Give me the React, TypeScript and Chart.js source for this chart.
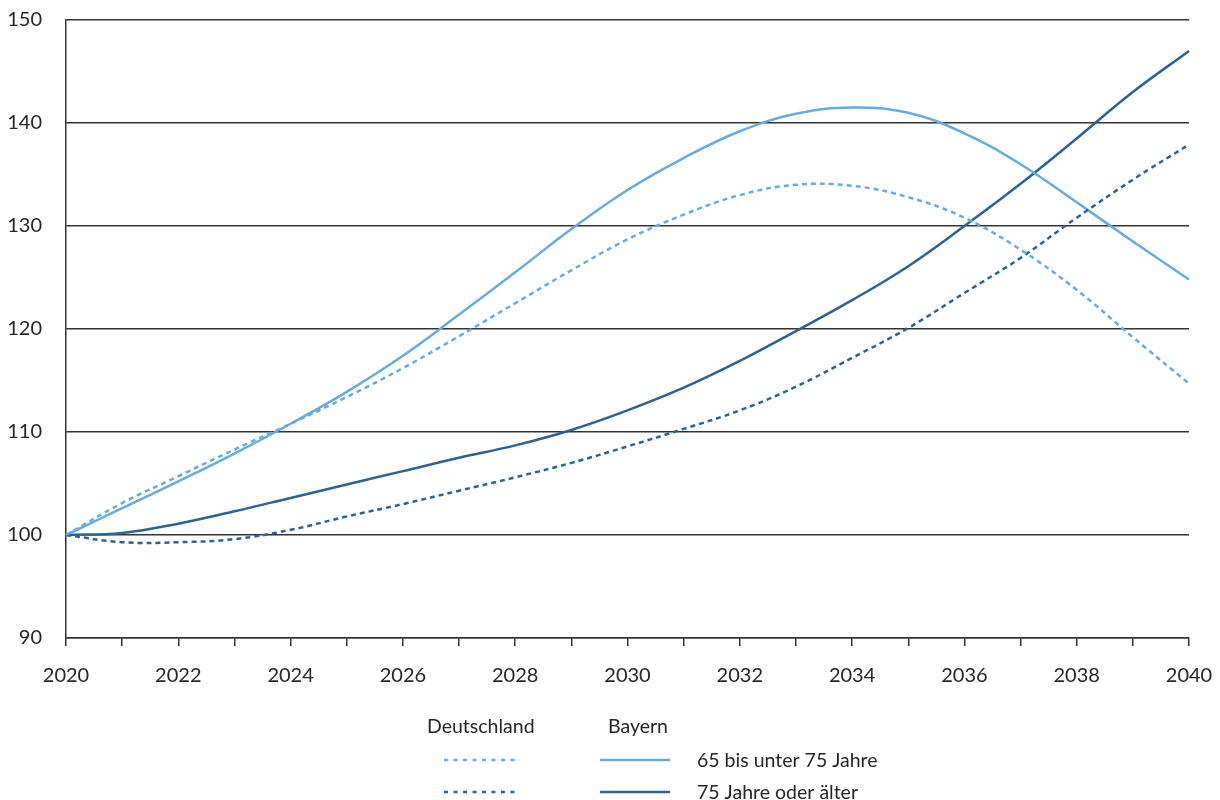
import React, { useEffect, useRef } from "react";
import { Chart, registerables } from "chart.js";

Chart.register(...registerables);

const years = ["2020","2021","2022","2023","2024","2025","2026","2027","2028","2029","2030","2031","2032","2033","2034","2035","2036","2037","2038","2039","2040"];

const bayern65 = [100, 102.6, 105.2, 107.9, 110.8, 113.9, 117.4, 121.4, 125.5, 129.7, 133.5, 136.6, 139.2, 140.9, 141.5, 141.0, 139.0, 136.0, 132.3, 128.5, 124.8];
const deutschland65 = [100, 103.1, 105.7, 108.3, 110.8, 113.4, 116.2, 119.3, 122.5, 125.7, 128.7, 131.1, 133.0, 134.0, 133.9, 132.8, 130.8, 127.7, 123.8, 119.2, 114.7];
const bayern75 = [100, 100.2, 101.1, 102.3, 103.6, 104.9, 106.2, 107.5, 108.7, 110.2, 112.1, 114.3, 116.9, 119.8, 122.8, 126.1, 130.0, 134.1, 138.5, 143.0, 147.0];
const deutschland75 = [100, 99.3, 99.3, 99.6, 100.5, 101.8, 103.0, 104.3, 105.6, 107.0, 108.6, 110.3, 112.1, 114.4, 117.2, 120.1, 123.5, 126.9, 130.8, 134.5, 137.9];

const legendHeaders = ["Deutschland", "Bayern"];
const legendLabels = ["65 bis unter 75 Jahre", "75 Jahre oder älter"];

const LIGHT = "#66acdf";
const DARK = "#2b6391";
const TEXT = "#262626";
const FONT = "Lato";

const legendPlugin = {
  id: "customLegend",
  afterDraw(chart: any) {
    const ctx = chart.ctx;
    ctx.save();
    ctx.font = `19.5px ${FONT}`;
    ctx.fillStyle = TEXT;
    ctx.textBaseline = "middle";
    ctx.textAlign = "left";
    ctx.fillText(legendHeaders[0], 427, 727);
    ctx.fillText(legendHeaders[1], 608, 727);
    const rows = [
      { y: 760, color: LIGHT, label: legendLabels[0] },
      { y: 792, color: DARK, label: legendLabels[1] },
    ];
    rows.forEach((r) => {
      ctx.lineWidth = 2.5;
      ctx.strokeStyle = r.color;
      ctx.setLineDash([4, 5.5]);
      ctx.beginPath();
      ctx.moveTo(444, r.y);
      ctx.lineTo(515, r.y);
      ctx.stroke();
      ctx.setLineDash([]);
      ctx.beginPath();
      ctx.moveTo(600, r.y);
      ctx.lineTo(670, r.y);
      ctx.stroke();
      ctx.fillStyle = TEXT;
      ctx.fillText(r.label, 697, r.y + 1);
    });
    ctx.restore();
  },
};

export default function App() {
  const ref = useRef<HTMLCanvasElement | null>(null);
  useEffect(() => {
    if (!ref.current) return;
    const chart = new Chart(ref.current, {
      type: "line",
      data: {
        labels: years,
        datasets: [
          { label: "Deutschland 65 bis unter 75 Jahre", data: deutschland65, borderColor: LIGHT, borderDash: [5, 4], borderWidth: 2.5 },
          { label: "Deutschland 75 Jahre oder älter", data: deutschland75, borderColor: DARK, borderDash: [5, 4], borderWidth: 2.5 },
          { label: "Bayern 65 bis unter 75 Jahre", data: bayern65, borderColor: LIGHT, borderWidth: 2.5 },
          { label: "Bayern 75 Jahre oder älter", data: bayern75, borderColor: DARK, borderWidth: 2.5 },
        ],
      },
      options: {
        responsive: false,
        animation: false,
        devicePixelRatio: 1,
        elements: {
          point: { radius: 0, hoverRadius: 0 },
          line: { tension: 0.4, fill: false },
        },
        layout: { padding: { left: 0, right: 31, top: 20, bottom: 112 } },
        plugins: { legend: { display: false }, tooltip: { enabled: false } },
        scales: {
          x: {
            type: "category",
            offset: false,
            grid: { drawOnChartArea: false, drawTicks: true, tickLength: 8, color: "#333", lineWidth: 1.5 },
            border: { display: true, color: "#333", width: 1.5 },
            ticks: {
              autoSkip: false,
              maxRotation: 0,
              padding: 18,
              color: TEXT,
              font: { family: FONT, size: 20 },
              callback: (_v: any, i: number) => (i % 2 === 0 ? years[i] : ""),
            },
            afterFit: (s: any) => {
              s.height = 50;
              s.paddingLeft = 0;
              s.paddingRight = 0;
              s.paddingTop = 0;
              s.paddingBottom = 0;
            },
          },
          y: {
            min: 90,
            max: 150,
            grid: { drawTicks: false, color: "#333", lineWidth: 1.5 },
            border: { display: true, color: "#333", width: 1.5 },
            ticks: { stepSize: 10, padding: 24, color: TEXT, font: { family: FONT, size: 20 } },
            afterFit: (s: any) => {
              s.width = 66;
              s.paddingLeft = 0;
              s.paddingRight = 0;
              s.paddingTop = 0;
              s.paddingBottom = 0;
            },
          },
        },
      },
      plugins: [legendPlugin],
    });
    return () => chart.destroy();
  }, []);
  return (
    <canvas
      ref={ref}
      width={1220}
      height={800}
      style={{ position: "absolute", left: 0, top: 0, width: 1220, height: 800, display: "block" }}
    />
  );
}
